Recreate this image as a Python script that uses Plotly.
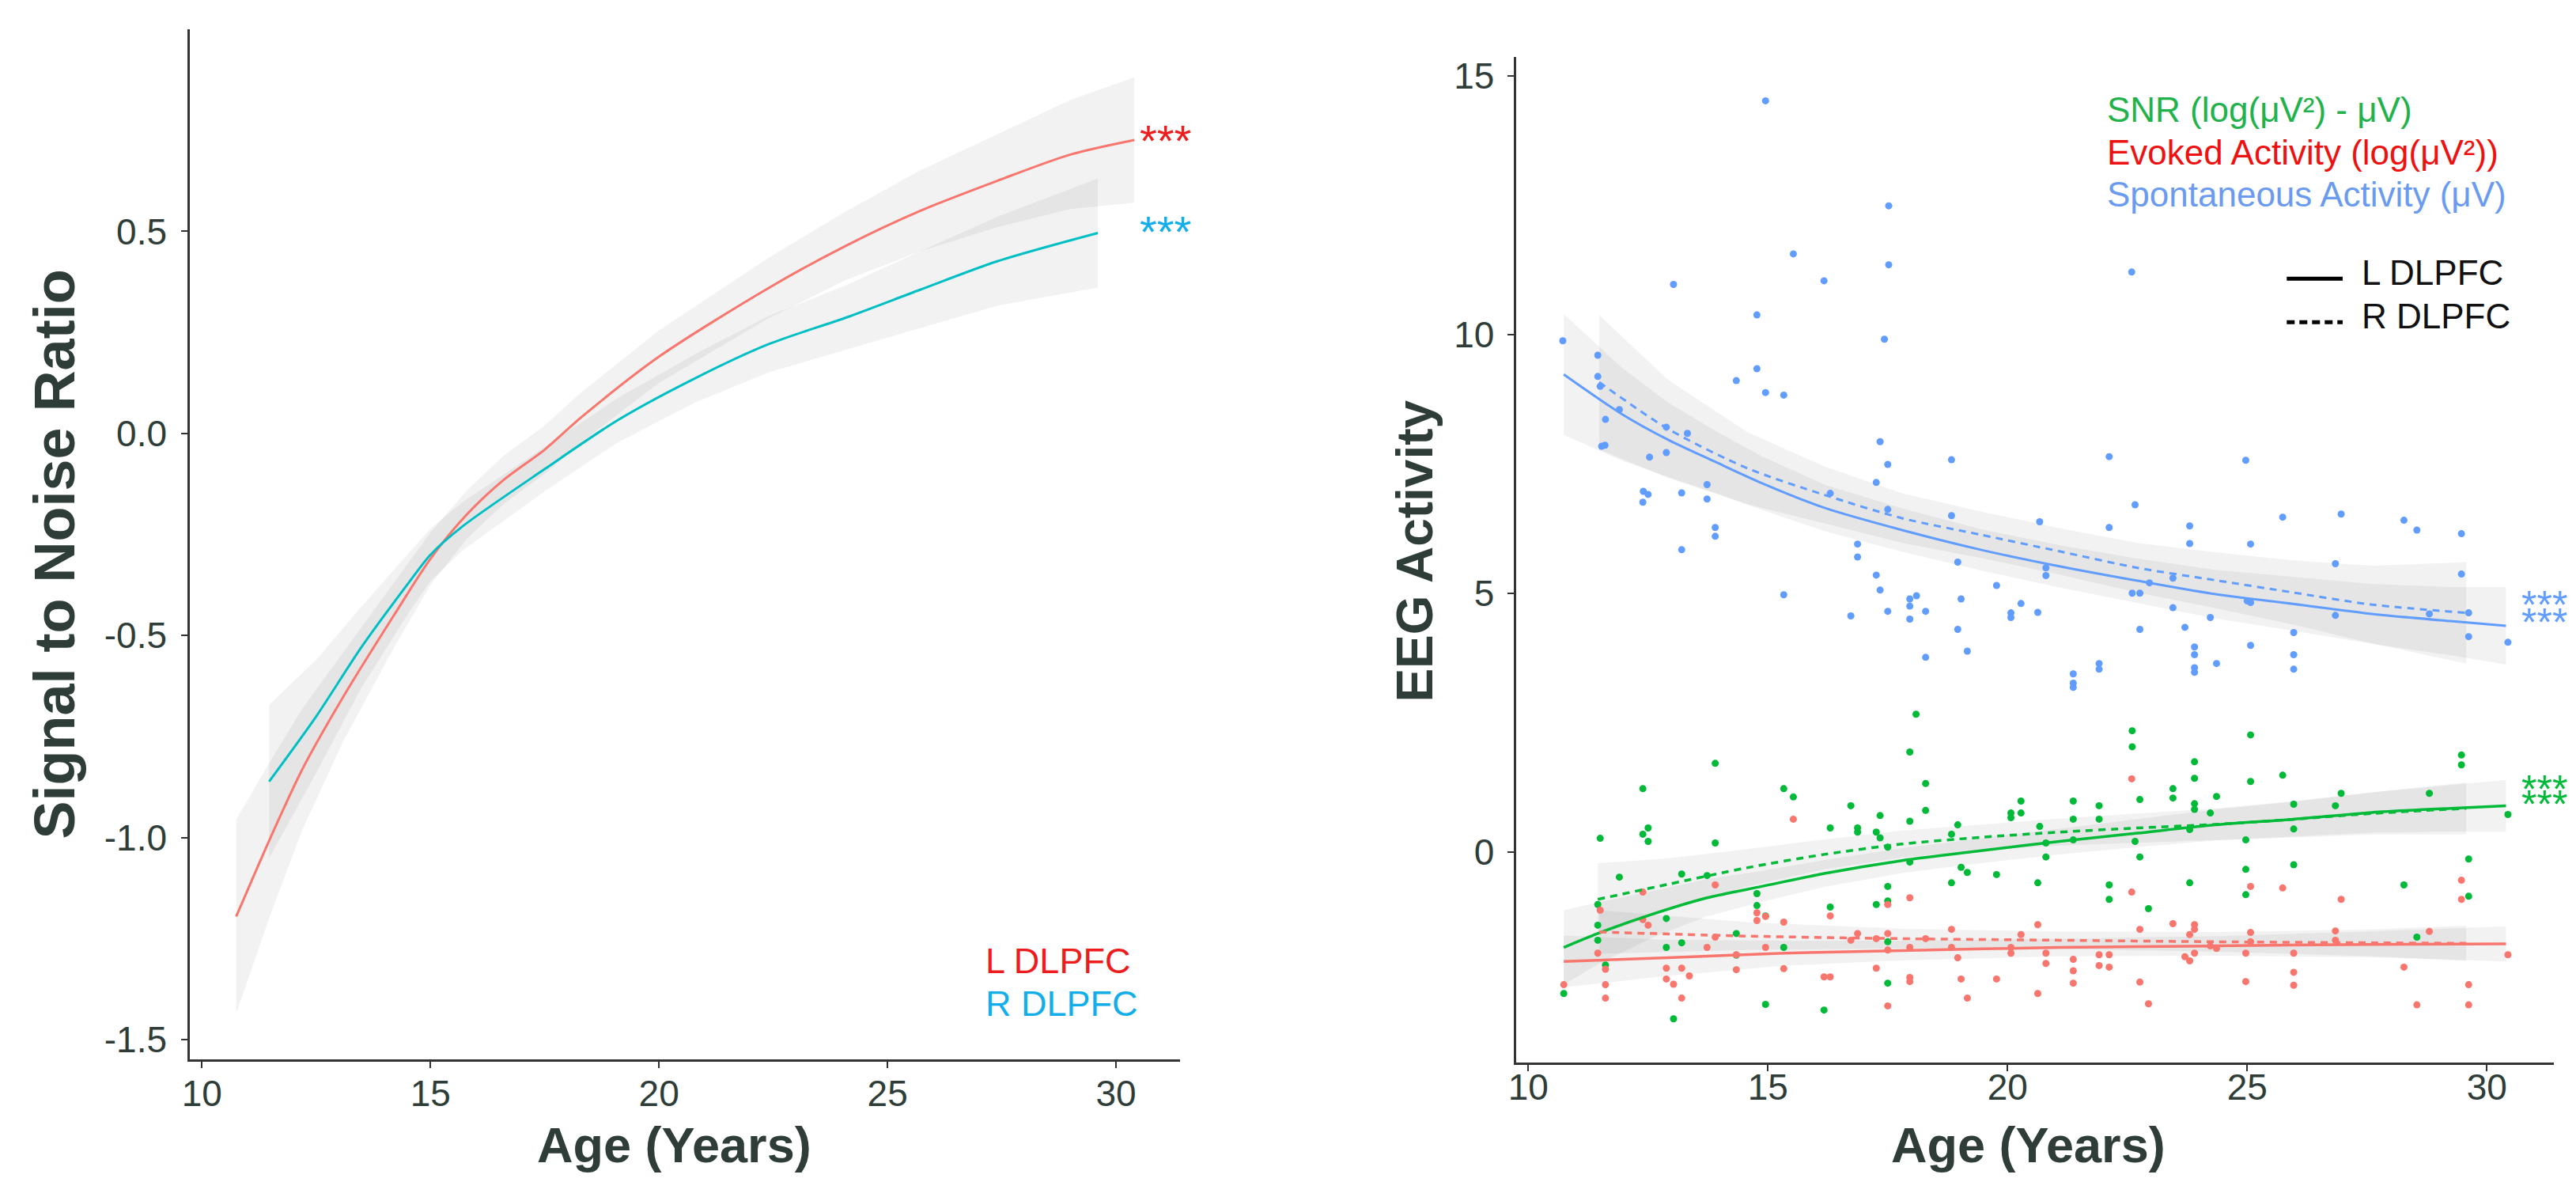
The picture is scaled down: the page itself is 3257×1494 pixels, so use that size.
import plotly.graph_objects as go

W, H = 3257, 1494

# ---------------- Left panel: Signal to Noise Ratio fits ----------------
snr_L_age = [10.75, 11.5, 12.2, 13.1, 14.2, 15.0, 15.8, 16.6, 17.5, 18.3, 20.0, 22.4, 24.1, 25.7, 27.4, 29.0, 30.4]
snr_L_fit = [-1.195, -1.00, -0.83, -0.65, -0.45, -0.31, -0.20, -0.115, -0.04, 0.04, 0.19, 0.36, 0.465, 0.55, 0.625, 0.69, 0.726]
snr_L_se = [0.24, 0.19, 0.15, 0.11, 0.08, 0.065, 0.06, 0.06, 0.06, 0.062, 0.065, 0.075, 0.085, 0.10, 0.115, 0.135, 0.155]

snr_R_age = [11.47, 12.5, 13.5, 14.5, 15.0, 15.7, 17.5, 19.1, 20.8, 22.4, 24.1, 25.7, 27.4, 29.6]
snr_R_fit = [-0.861, -0.70, -0.527, -0.373, -0.30, -0.23, -0.088, 0.033, 0.137, 0.221, 0.287, 0.355, 0.426, 0.496]
snr_R_se = [0.19, 0.14, 0.10, 0.075, 0.065, 0.06, 0.055, 0.055, 0.06, 0.07, 0.08, 0.095, 0.11, 0.135]

# ---------------- Right panel: fitted curves ----------------
spont_L_age = [10.74, 11.94, 12.91, 13.9, 14.87, 16.18, 17.8, 19.44, 21.08, 22.71, 24.34, 25.98, 27.6, 29.24, 30.4]
spont_L_fit = [9.23, 8.47, 7.97, 7.54, 7.13, 6.65, 6.22, 5.84, 5.52, 5.24, 4.98, 4.79, 4.6, 4.46, 4.37]
spont_L_se = [1.17, 0.9, 0.72, 0.6, 0.52, 0.45, 0.42, 0.4, 0.41, 0.43, 0.47, 0.52, 0.58, 0.66, 0.75]

spont_R_age = [11.48, 12.91, 14.56, 16.18, 17.8, 19.44, 21.08, 22.71, 24.34, 25.98, 27.6, 29.57]
spont_R_fit = [9.08, 8.18, 7.42, 6.9, 6.45, 6.13, 5.81, 5.49, 5.25, 5.01, 4.78, 4.62]
spont_R_se = [1.3, 0.95, 0.7, 0.55, 0.48, 0.45, 0.45, 0.48, 0.54, 0.62, 0.75, 0.98]

snr2_L_age = [10.74, 11.45, 12.58, 13.73, 14.87, 16.18, 17.8, 19.44, 21.08, 22.71, 24.34, 25.98, 27.6, 29.24, 30.4]
snr2_L_fit = [-1.85, -1.58, -1.21, -0.89, -0.67, -0.42, -0.17, 0.02, 0.2, 0.36, 0.52, 0.63, 0.76, 0.84, 0.89]
snr2_L_se = [0.72, 0.6, 0.45, 0.36, 0.3, 0.26, 0.24, 0.24, 0.25, 0.27, 0.3, 0.34, 0.39, 0.45, 0.5]

snr2_R_age = [11.45, 12.91, 14.56, 16.18, 17.8, 19.44, 21.08, 22.71, 24.34, 25.98, 27.6, 29.57]
snr2_R_fit = [-0.92, -0.63, -0.31, -0.05, 0.15, 0.28, 0.38, 0.46, 0.53, 0.63, 0.74, 0.84]
snr2_R_se = [0.7, 0.5, 0.36, 0.29, 0.26, 0.25, 0.26, 0.28, 0.31, 0.35, 0.41, 0.5]

evoked_L_age = [10.74, 12.91, 15.36, 17.8, 21.08, 24.34, 27.6, 30.4]
evoked_L_fit = [-2.12, -2.05, -1.96, -1.91, -1.85, -1.82, -1.79, -1.78]
evoked_L_se = [0.5, 0.35, 0.24, 0.19, 0.17, 0.19, 0.25, 0.34]

evoked_R_age = [11.48, 14.56, 17.8, 21.08, 24.34, 27.6, 29.57]
evoked_R_fit = [-1.55, -1.63, -1.68, -1.71, -1.74, -1.76, -1.77]
evoked_R_se = [0.42, 0.27, 0.19, 0.17, 0.19, 0.26, 0.34]

# ---------------- Right panel: individual points ----------------
spont_age = [14.95, 17.52, 15.53, 17.52, 16.17, 13.03, 22.59, 14.77, 17.43, 10.72, 11.45, 14.77, 14.34, 11.45, 11.5,
             14.95, 15.33, 11.61, 11.9, 11.53, 11.6, 12.88, 13.32, 12.88, 12.53, 12.4, 12.5, 12.39, 13.2, 13.73,
             13.73, 13.9, 13.9, 13.2, 15.33, 16.3, 17.34, 17.5, 17.26, 17.5, 16.87, 16.87, 17.26, 17.34, 16.73,
             17.5, 17.96, 17.96, 17.96, 18.1, 18.29, 18.29, 18.83, 18.83, 18.96, 19.03, 18.96, 19.16, 19.77, 20.07,
             20.07, 20.28, 20.63, 20.67, 20.8, 20.8, 21.37, 21.37, 21.37, 21.91, 21.91, 22.12, 22.12, 22.6, 22.76,
             22.66, 22.76, 22.96, 23.45, 23.45, 23.7, 23.8, 23.8, 23.9, 23.9, 23.9, 23.9, 24.23, 24.36, 24.97,
             25.07, 25.0, 25.07, 25.07, 25.74, 25.97, 25.97, 25.97, 26.96, 26.84, 26.84, 28.27, 28.54, 28.8, 29.47,
             29.47, 29.62, 29.62, 30.44]
spont_val = [14.52, 12.49, 11.56, 11.35, 11.04, 10.97, 11.21, 10.38, 9.91, 9.88, 9.6, 9.34, 9.11, 9.19, 9.0,
             8.88, 8.83, 8.36, 8.55, 7.84, 7.86, 8.21, 8.09, 7.72, 7.63, 6.97, 6.91, 6.76, 6.94, 7.1,
             6.82, 6.27, 6.1, 5.84, 4.97, 6.93, 7.93, 7.49, 7.14, 6.62, 5.95, 5.7, 5.35, 5.06, 4.56,
             4.65, 4.89, 4.75, 4.5, 4.95, 4.65, 3.76, 7.58, 6.5, 5.6, 4.89, 4.3, 3.88, 5.15, 4.62,
             4.53, 4.8, 4.63, 6.38, 5.49, 5.34, 3.44, 3.26, 3.18, 3.64, 3.53, 7.64, 6.27, 5.0, 5.0,
             6.71, 4.3, 5.2, 5.29, 4.72, 4.34, 6.3, 5.96, 3.96, 3.81, 3.56, 3.47, 4.53, 3.64, 7.57,
             5.95, 4.85, 4.82, 3.99, 6.47, 4.24, 3.81, 3.53, 6.53, 5.57, 4.57, 6.41, 6.22, 4.6, 6.15,
             5.37, 4.62, 4.16, 4.05]

snr_age = [13.9, 12.39, 15.33, 15.53, 18.09, 17.96, 18.29, 16.73, 17.34, 17.96, 18.29, 20.28, 20.07, 20.07, 20.28,
           21.37, 21.37, 21.91, 21.91, 22.6, 22.6, 22.76, 23.45, 23.45, 23.9, 23.9, 23.9, 23.9, 24.23, 24.36,
           25.07, 25.07, 25.74, 25.97, 26.84, 26.96, 28.8, 29.47, 29.47, 30.44, 11.5, 12.39, 12.5, 12.5, 13.9,
           16.3, 16.87, 16.87, 17.26, 17.34, 17.5, 18.83, 18.96, 20.67, 20.8, 20.8, 21.37, 22.66, 22.76, 23.8,
           24.97, 25.97, 25.97, 29.62, 11.9, 13.2, 13.73, 11.45, 11.45, 11.45, 11.61, 10.74, 12.88, 12.88, 13.2,
           13.03, 14.34, 14.34, 14.77, 14.77, 14.95, 15.33, 14.95, 16.17, 16.3, 17.26, 17.5, 17.5, 17.5, 17.5,
           17.96, 18.83, 19.03, 19.16, 19.77, 20.63, 22.12, 22.12, 22.94, 23.8, 24.97, 24.97, 28.27, 28.54, 29.62]
snr_val = [1.71, 1.22, 1.22, 1.06, 2.66, 1.93, 1.32, 0.89, 0.7, 0.59, 0.8, 0.98, 0.75, 0.66, 0.75,
           0.98, 0.63, 0.89, 0.63, 2.34, 2.03, 1.01, 1.22, 1.04, 1.74, 1.42, 0.93, 0.82, 0.75, 1.07,
           2.26, 1.36, 1.48, 0.92, 0.89, 1.13, 1.13, 1.87, 1.68, 0.72, 0.26, 0.34, 0.46, 0.2, 0.17,
           0.46, 0.46, 0.38, 0.38, 0.27, 0.09, 0.34, 0.52, 0.49, 0.17, -0.1, 0.23, 0.2, -0.1, 0.43,
           0.23, 0.44, -0.25, -0.14, -0.49, -0.43, -0.46, -1.02, -1.42, -1.71, -2.19, -2.74, -1.29, -1.85, -1.76,
           -3.23, -1.58, -2.0, -0.81, -1.04, -1.24, -1.85, -2.95, -3.06, -1.07, -1.02, -0.67, -0.95, -1.74, -2.54,
           -0.2, -0.6, -0.3, -0.4, -0.44, -0.6, -0.64, -0.92, -1.1, -0.6, -0.34, -0.83, -0.64, -1.65, -0.86]

evoked_age = [22.59, 15.53, 13.9, 12.39, 11.5, 12.39, 12.5, 14.77, 14.77, 14.95, 15.33, 16.3, 17.5, 17.96, 22.59,
              25.07, 25.74, 26.96, 29.47, 29.47, 11.45, 11.61, 11.61, 11.61, 10.74, 12.88, 12.88, 13.03, 13.2, 13.2,
              13.36, 13.73, 13.9, 14.34, 14.34, 14.95, 15.33, 16.17, 16.3, 16.73, 16.87, 17.26, 17.26, 17.5, 17.5,
              17.5, 17.96, 17.96, 17.96, 18.29, 18.83, 18.83, 18.96, 19.03, 19.16, 19.77, 20.07, 20.07, 20.28, 20.63,
              20.63, 20.8, 20.8, 21.37, 21.37, 21.37, 21.91, 22.12, 21.91, 22.12, 22.76, 22.76, 22.94, 23.45, 23.7,
              23.8, 23.8, 23.9, 23.9, 23.9, 24.23, 24.36, 24.97, 24.97, 25.07, 25.07, 25.97, 25.97, 25.97, 26.84,
              26.84, 28.27, 28.54, 28.8, 29.62, 29.62, 30.44]
evoked_val = [1.41, 0.63, -0.64, -0.78, -1.13, -1.31, -1.42, -1.18, -1.33, -1.25, -1.36, -1.24, -1.02, -0.89, -0.78,
              -0.67, -0.7, -0.92, -0.55, -0.92, -1.96, -2.27, -2.57, -2.83, -2.57, -2.25, -2.46, -2.56, -2.25, -2.83,
              -2.4, -1.85, -1.65, -1.99, -2.28, -1.85, -2.26, -2.42, -2.42, -1.71, -1.58, -1.68, -2.25, -1.58, -1.9,
              -2.98, -1.85, -2.43, -2.51, -1.68, -1.5, -1.85, -2.05, -2.46, -2.83, -2.46, -1.85, -1.96, -1.6, -1.41,
              -2.74, -1.96, -2.16, -2.08, -2.3, -2.54, -1.99, -1.99, -2.2, -2.23, -1.5, -2.52, -2.94, -1.39, -2.03,
              -2.11, -1.6, -1.5, -1.41, -1.96, -1.82, -1.87, -1.96, -2.51, -1.56, -1.74, -1.96, -2.33, -2.58, -1.53,
              -1.71, -2.23, -2.96, -1.54, -2.57, -2.96, -1.99]

x_ticks = [10, 15, 20, 25, 30]
left_y_ticks = [-1.5, -1.0, -0.5, 0.0, 0.5]
right_y_ticks = [0, 5, 10, 15]

# ---------------- colours & fonts ----------------
COL_L = "#F8766D"
COL_R = "#00BFC4"
TXT_RED = "#EE1C1C"
TXT_BLUE = "#12AEEA"
GREEN = "#00BA38"
RED = "#F8766D"
BLUE = "#619CFF"
LEG_GREEN = "#22B24C"
LEG_RED = "#EE1111"
LEG_BLUE = "#6A9BF0"
DARK = "#2F3D39"
AXC = "#333333"
FONT = "Liberation Sans"
RIBBON = "rgba(0,0,0,0.052)"


def px(xp):
    return xp / W


def py(yp):
    return 1 - yp / H


fig = go.Figure()


def ribbon(age, fit, se, xa, ya):
    lo = [f - s for f, s in zip(fit, se)]
    hi = [f + s for f, s in zip(fit, se)]
    fig.add_trace(go.Scatter(x=list(age) + list(age)[::-1], y=hi + lo[::-1], fill="toself",
                             fillcolor=RIBBON, line=dict(width=0), mode="lines",
                             hoverinfo="skip", showlegend=False, xaxis=xa, yaxis=ya))


def curve(age, fit, color, dash, xa, ya, width=3):
    fig.add_trace(go.Scatter(x=age, y=fit, mode="lines",
                             line=dict(color=color, width=width, dash=dash, shape="spline", smoothing=0.8),
                             showlegend=False, xaxis=xa, yaxis=ya))


# Left panel
ribbon(snr_L_age, snr_L_fit, snr_L_se, "x", "y")
ribbon(snr_R_age, snr_R_fit, snr_R_se, "x", "y")
curve(snr_L_age, snr_L_fit, COL_L, "solid", "x", "y")
curve(snr_R_age, snr_R_fit, COL_R, "solid", "x", "y")

# Right panel ribbons
for a, f, s in [(spont_L_age, spont_L_fit, spont_L_se), (spont_R_age, spont_R_fit, spont_R_se),
                (snr2_L_age, snr2_L_fit, snr2_L_se), (snr2_R_age, snr2_R_fit, snr2_R_se),
                (evoked_L_age, evoked_L_fit, evoked_L_se), (evoked_R_age, evoked_R_fit, evoked_R_se)]:
    ribbon(a, f, s, "x2", "y2")

# points
for a, v, c in [(snr_age, snr_val, GREEN), (evoked_age, evoked_val, RED), (spont_age, spont_val, BLUE)]:
    fig.add_trace(go.Scatter(x=a, y=v, mode="markers", marker=dict(color=c, size=9, line=dict(width=0)),
                             showlegend=False, xaxis="x2", yaxis="y2"))

DASH = "9px,7px"
curve(spont_L_age, spont_L_fit, BLUE, "solid", "x2", "y2")
curve(spont_R_age, spont_R_fit, BLUE, DASH, "x2", "y2")
curve(snr2_L_age, snr2_L_fit, GREEN, "solid", "x2", "y2", 3.5)
curve(snr2_R_age, snr2_R_fit, GREEN, DASH, "x2", "y2", 3.5)
curve(evoked_L_age, evoked_L_fit, RED, "solid", "x2", "y2", 3.5)
curve(evoked_R_age, evoked_R_fit, RED, DASH, "x2", "y2", 3.5)

tickfont = dict(family=FONT, size=46, color=DARK)
axis_common = dict(showline=True, linecolor=AXC, linewidth=3, ticks="outside", ticklen=8, tickwidth=2,
                   tickcolor=AXC, showgrid=False, zeroline=False, tickfont=tickfont)

fig.update_layout(
    width=W, height=H, margin=dict(l=0, r=0, t=0, b=0),
    paper_bgcolor="white", plot_bgcolor="white", showlegend=False,
    xaxis=dict(domain=[px(222), px(1478)], range=[9.74, 31.4], tickvals=x_ticks, anchor="y",
               ticklabelstandoff=-8, **axis_common),
    yaxis=dict(domain=[py(1332), py(27)], range=[-1.549, 1.0], tickvals=left_y_ticks,
               ticktext=[f"{v:.1f}" for v in left_y_ticks], anchor="x", ticklabelstandoff=9, **axis_common),
    xaxis2=dict(domain=[px(1904), px(3221)], range=[9.74, 31.4], tickvals=x_ticks, anchor="y2",
                ticklabelstandoff=-20, **axis_common),
    yaxis2=dict(domain=[py(1336), py(62)], range=[-4.08, 15.37], tickvals=right_y_ticks, anchor="x2",
                ticklabelstandoff=7, **axis_common),
)

ann = []


def text(x, y, s, size, color, bold=False, xanchor="center", yanchor="middle", angle=0):
    ann.append(dict(x=px(x), y=py(y), xref="paper", yref="paper", text=s, showarrow=False,
                    xanchor=xanchor, yanchor=yanchor, textangle=angle,
                    font=dict(family=FONT, size=size, color=color, weight="bold" if bold else "normal")))


# axis titles
text(50, 692, "Signal to Noise Ratio", 72, DARK, bold=True, angle=-90)
text(836, 1440, "Age (Years)", 63, DARK, bold=True)
text(1776, 688, "EEG Activity", 64, DARK, bold=True, angle=-90)
text(2554, 1440, "Age (Years)", 63, DARK, bold=True)

# left panel significance + legend
text(1425, 168, "***", 56, TXT_RED, xanchor="left")
text(1425, 283, "***", 56, TXT_BLUE, xanchor="left")
text(1229, 1207, "L DLPFC", 45, TXT_RED, xanchor="left")
text(1229, 1261, "R DLPFC", 45, TXT_BLUE, xanchor="left")

# right panel significance
text(3178, 757, "***", 50, BLUE, xanchor="left")
text(3178, 779, "***", 50, BLUE, xanchor="left")
text(3178, 990, "***", 50, GREEN, xanchor="left")
text(3178, 1009, "***", 50, GREEN, xanchor="left")

# right panel colour legend
text(2652, 129, "SNR (log(μV²) - μV)", 44, LEG_GREEN, xanchor="left")
text(2652, 183, "Evoked Activity (log(μV²))", 44, LEG_RED, xanchor="left")
text(2652, 236, "Spontaneous Activity (μV)", 44, LEG_BLUE, xanchor="left")

# line-type legend
text(2975, 335, "L DLPFC", 44, "#111111", xanchor="left")
text(2975, 390, "R DLPFC", 44, "#111111", xanchor="left")

fig.update_layout(annotations=ann)
fig.add_shape(type="line", xref="paper", yref="paper", x0=px(2882), x1=px(2953), y0=py(343), y1=py(343),
              line=dict(color="black", width=5))
fig.add_shape(type="line", xref="paper", yref="paper", x0=px(2882), x1=px(2953), y0=py(398), y1=py(398),
              line=dict(color="black", width=5, dash="10px,6px"))

fig.write_html("out.html")
